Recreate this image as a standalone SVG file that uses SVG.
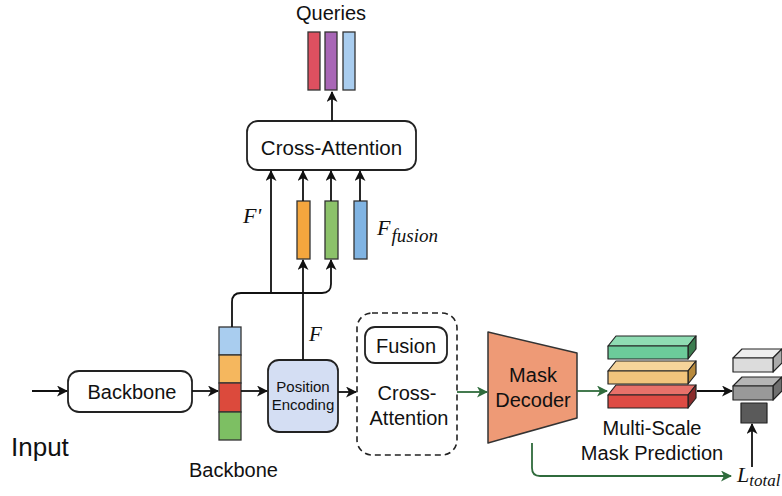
<svg xmlns="http://www.w3.org/2000/svg" width="782" height="496" viewBox="0 0 782 496">
<style>
.t{font-family:"Liberation Sans",Arial,sans-serif;fill:#111;text-anchor:middle}
.m{font-family:"Liberation Serif","Times New Roman",serif;font-style:italic;fill:#111}
.box{fill:#fff;stroke:#222;stroke-width:1.8}
.bar{stroke:#333;stroke-width:1.3}
.c{fill:none;stroke:#111;stroke-width:1.8}
.g{fill:none;stroke:#2f6b3c;stroke-width:1.8}
.e{stroke:#222;stroke-width:1.2;stroke-linejoin:round}
</style>
<defs>
<marker id="ab" markerWidth="11" markerHeight="11" refX="10" refY="5.5" orient="auto" markerUnits="userSpaceOnUse"><path d="M0,0 L11,5.5 L0,11 L3,5.5 Z" fill="#111"/></marker>
<marker id="ag" markerWidth="11" markerHeight="11" refX="10" refY="5.5" orient="auto" markerUnits="userSpaceOnUse"><path d="M0,0 L11,5.5 L0,11 L3,5.5 Z" fill="#2f6b3c"/></marker>
</defs>
<rect width="782" height="496" fill="#fff"/>

<g id="queries">
<text class="t" x="331" y="20" font-size="20">Queries</text>
<rect class="bar" x="308" y="32" width="12" height="58" fill="#de5060"/>
<rect class="bar" x="325" y="32" width="12" height="58" fill="#a866b6"/>
<rect class="bar" x="343" y="32" width="12" height="58" fill="#a9cdef"/>
</g>

<g id="cross-attention">
<rect class="box" x="247" y="121" width="169" height="49" rx="11"/>
<text class="t" x="331.5" y="155" font-size="20.5">Cross-Attention</text>
</g>

<g id="f-fusion">
<rect class="bar" x="297" y="201" width="13" height="58" fill="#f4a63e"/>
<rect class="bar" x="325" y="201" width="13" height="58" fill="#8cc26a"/>
<rect class="bar" x="354" y="201" width="13" height="58" fill="#80b4e3"/>
<text class="m" x="377" y="235" font-size="22">F<tspan font-size="19" dy="7" dx="1">fusion</tspan></text>
</g>

<g id="labels-f">
<text class="m" x="243" y="223" font-size="22">F'</text>
<text class="m" x="309" y="341" font-size="21">F</text>
</g>

<g id="input">
<text x="11" y="456" font-size="26" font-family="Liberation Sans, Arial, sans-serif" fill="#111">Input</text>
</g>

<g id="backbone">
<rect class="box" x="68" y="371" width="124" height="41" rx="11"/>
<text class="t" x="132" y="399" font-size="20">Backbone</text>
</g>

<g id="backbone-features">
<rect class="bar" x="219" y="327" width="22" height="28" fill="#a9cdef"/>
<rect class="bar" x="219" y="355" width="22" height="28" fill="#f5b75e"/>
<rect class="bar" x="219" y="383" width="22" height="29" fill="#dc4a3c"/>
<rect class="bar" x="219" y="412" width="22" height="28" fill="#7dbf63"/>
<text class="t" x="233.5" y="477" font-size="20">Backbone</text>
</g>

<g id="position-encoding">
<rect x="268" y="360" width="70" height="72" rx="11" fill="#d4def3" stroke="#222" stroke-width="1.8"/>
<text class="t" x="303" y="392" font-size="15">Position</text>
<text class="t" x="303" y="410" font-size="15">Encoding</text>
</g>

<g id="fusion-cross-attention">
<rect x="357" y="313" width="100" height="142" rx="15" fill="#fff" stroke="#222" stroke-width="1.6" stroke-dasharray="6,4"/>
<rect class="box" x="365" y="327" width="82" height="36" rx="10"/>
<text class="t" x="406" y="353" font-size="20">Fusion</text>
<text class="t" x="407" y="400" font-size="20">Cross-</text>
<text class="t" x="409" y="425" font-size="20">Attention</text>
</g>

<g id="mask-decoder">
<path d="M488,332 L577,353 L577,418 L488,443 Z" fill="#ee9a76" stroke="#333" stroke-width="1.5" stroke-linejoin="round"/>
<text class="t" x="533" y="382" font-size="20">Mask</text>
<text class="t" x="533" y="407" font-size="20">Decoder</text>
</g>

<g id="multi-scale">
<path class="e" d="M608,346 L616,336 L696,336 L688,346 Z" fill="#8fdcb3"/>
<path class="e" d="M688,346 L696,336 L696,349 L688,359 Z" fill="#3b7c4f"/>
<rect class="e" x="608" y="346" width="80" height="13" fill="#6ccb9a"/>
<path class="e" d="M608,371 L616,361 L696,361 L688,371 Z" fill="#f6d49a"/>
<path class="e" d="M688,371 L696,361 L696,374 L688,384 Z" fill="#b88a3c"/>
<rect class="e" x="608" y="371" width="80" height="13" fill="#f2c47c"/>
<path class="e" d="M608,395 L616,385 L696,385 L688,395 Z" fill="#e8716a"/>
<path class="e" d="M688,395 L696,385 L696,398 L688,408 Z" fill="#8a2c2c"/>
<rect class="e" x="608" y="395" width="80" height="13" fill="#de4b44"/>
<text class="t" x="652" y="435" font-size="20">Multi-Scale</text>
<text class="t" x="652" y="460" font-size="20">Mask Prediction</text>
</g>

<g id="output-masks">
<path class="e" d="M733,358 L742,349 L782,349 L773,358 Z" fill="#eeeeee"/>
<path class="e" d="M773,358 L782,349 L782,363 L773,372 Z" fill="#aaaaaa"/>
<rect class="e" x="733" y="358" width="40" height="14" fill="#dcdcdc"/>
<path class="e" d="M733,386 L742,377 L782,377 L773,386 Z" fill="#b5b5b5"/>
<path class="e" d="M773,386 L782,377 L782,391 L773,400 Z" fill="#6e6e6e"/>
<rect class="e" x="733" y="386" width="40" height="14" fill="#999999"/>
<rect class="e" x="741" y="403" width="26" height="20" fill="#5a5a5a"/>
</g>

<g id="loss">
<text class="m" x="737" y="482" font-size="22">L<tspan font-size="17" dy="4">total</tspan></text>
</g>

<g id="connectors">
<path class="c" d="M32,391 L67,391" marker-end="url(#ab)"/>
<path class="c" d="M192,391 L218,391" marker-end="url(#ab)"/>
<path class="c" d="M241,391 L267,391" marker-end="url(#ab)"/>
<path class="c" d="M338,392 L356,392" marker-end="url(#ab)"/>
<path class="g" d="M457,392 L487,392" marker-end="url(#ag)"/>
<path class="g" d="M577,391 L607,391" marker-end="url(#ag)"/>
<path class="c" d="M697,391 L732,391" marker-end="url(#ab)"/>
<path class="g" d="M532,443 L532,468 Q532,476 540,476 L731,476" marker-end="url(#ag)"/>
<path class="c" d="M752,467 L752,424" marker-end="url(#ab)"/>
<path class="c" d="M232,327 L232,302 Q232,293 241,293 L322,293 Q331,293 331,284 L331,260" marker-end="url(#ab)"/>
<path class="c" d="M271,293 L271,171" marker-end="url(#ab)"/>
<path class="c" d="M303,360 L303,260" marker-end="url(#ab)"/>
<path class="c" d="M303,201 L303,171" marker-end="url(#ab)"/>
<path class="c" d="M331,201 L331,171" marker-end="url(#ab)"/>
<path class="c" d="M360,201 L360,171" marker-end="url(#ab)"/>
<path class="c" d="M332,121 L332,92" marker-end="url(#ab)"/>
</g>
</svg>
